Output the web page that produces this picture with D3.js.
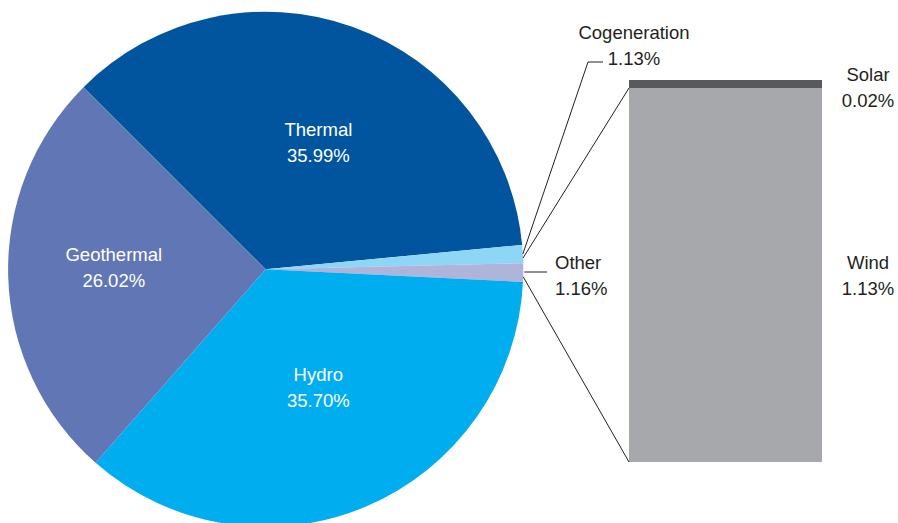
<!DOCTYPE html>
<html>
<head>
<meta charset="utf-8">
<script src="https://cdn.jsdelivr.net/npm/d3@7"></script>
<style>
  html, body { margin: 0; padding: 0; background: #fff; }
  svg { display: block; }
  text { font-family: "Liberation Sans", Arial, sans-serif; font-size: 18.5px; }
</style>
</head>
<body>
<svg id="chart" width="898" height="523"></svg>
<script>
// ---- Data ----
const categories = ["Thermal", "Cogeneration", "Other", "Hydro", "Geothermal"];
const values = [35.99, 1.13, 1.16, 35.70, 26.02];
const pieColors = ["#01559F", "#8ED6F6", "#AEB4DA", "#00AEEF", "#6176B4"];
const insideLabels = ["Thermal", "Hydro", "Geothermal"];

const barCategories = ["Wind", "Solar"];
const barValues = [1.13, 0.02];
const barColors = ["#A7A8AB", "#58595B"];

// ---- Layout ----
const svg = d3.select("#chart");
const cx = 265.7, cy = 269.3, R = 257.6;
const fmt = v => v.toFixed(2) + "%";

const pie = d3.pie().sort(null).value(d => d.value)
  .startAngle(-Math.PI / 4).endAngle(2 * Math.PI - Math.PI / 4);
const pieData = pie(categories.map((c, i) => ({ name: c, value: values[i], color: pieColors[i] })));
const arc = d3.arc().innerRadius(0).outerRadius(R);

const g = svg.append("g").attr("transform", `translate(${cx},${cy})`);
g.selectAll("path.slice").data(pieData).join("path")
  .attr("class", "slice")
  .attr("d", arc)
  .attr("fill", d => d.data.color);

// inside labels
const labelRadius = { Thermal: 132, Hydro: 135, Geothermal: 152 };
pieData.filter(d => insideLabels.includes(d.data.name)).forEach(d => {
  const la = d3.arc().innerRadius(labelRadius[d.data.name]).outerRadius(labelRadius[d.data.name]);
  let [x, y] = la.centroid(d);
  if (d.data.name === "Thermal") { x += 8; y += 4; }
  const t = g.append("text").attr("fill", "#fff").attr("text-anchor", "middle");
  t.append("tspan").attr("x", x).attr("y", y - 13).text(d.data.name);
  t.append("tspan").attr("x", x).attr("y", y + 13).text(fmt(d.data.value));
});

// helper: point on pie rim at angle
const rim = (a, r = R) => [cx + Math.sin(a) * r, cy - Math.cos(a) * r];

// ---- Bar of pie ----
const barX = d3.scaleBand().domain(["stack"]).range([629, 822]).padding(0);
const barTotal = d3.sum(barValues);
const barY = d3.scaleLinear().domain([0, barTotal]).range([462, 80]);
const stackData = d3.stack().keys(barCategories)([Object.fromEntries(barCategories.map((c, i) => [c, barValues[i]]))]);

svg.append("g").selectAll("rect").data(stackData).join("rect")
  .attr("x", barX("stack"))
  .attr("width", barX.bandwidth())
  .attr("y", d => barY(d[0][1]))
  .attr("height", d => Math.max(barY(d[0][0]) - barY(d[0][1]), 8))
  .attr("fill", (d, i) => barColors[i]);

// ---- Leader lines ----
const cog = pieData[1], oth = pieData[2];
const lines = svg.append("g").attr("stroke", "#231F20").attr("stroke-width", 1).attr("fill", "none");

const pCog = rim((cog.startAngle + cog.endAngle) / 2);
lines.append("polyline").attr("points", [pCog, [588, 62], [603, 62]].map(p => p.join(",")).join(" "));

const pOthTop = rim(oth.startAngle - 0.02);
lines.append("line").attr("x1", pOthTop[0]).attr("y1", pOthTop[1])
  .attr("x2", barX("stack")).attr("y2", 88);

const pOthMid = rim((oth.startAngle + oth.endAngle) / 2, R + 1);
lines.append("line").attr("x1", pOthMid[0]).attr("y1", 272).attr("x2", 547).attr("y2", 272);

const pOthBot = rim(oth.endAngle - 0.02);
lines.append("line").attr("x1", pOthBot[0]).attr("y1", pOthBot[1])
  .attr("x2", barX("stack")).attr("y2", barY(0));

// ---- Outside labels ----
function twoLine(x, y1, anchor, name, val) {
  const t = svg.append("text").attr("fill", "#231F20").attr("text-anchor", anchor);
  t.append("tspan").attr("x", x).attr("y", y1).text(name);
  t.append("tspan").attr("x", x).attr("y", y1 + 26).text(fmt(val));
}
twoLine(634, 39, "middle", categories[1], values[1]);
twoLine(555, 269, "start", categories[2], values[2]);
twoLine(868, 81, "middle", barCategories[1], barValues[1]);
twoLine(868, 269, "middle", barCategories[0], barValues[0]);
</script>
</body>
</html>
